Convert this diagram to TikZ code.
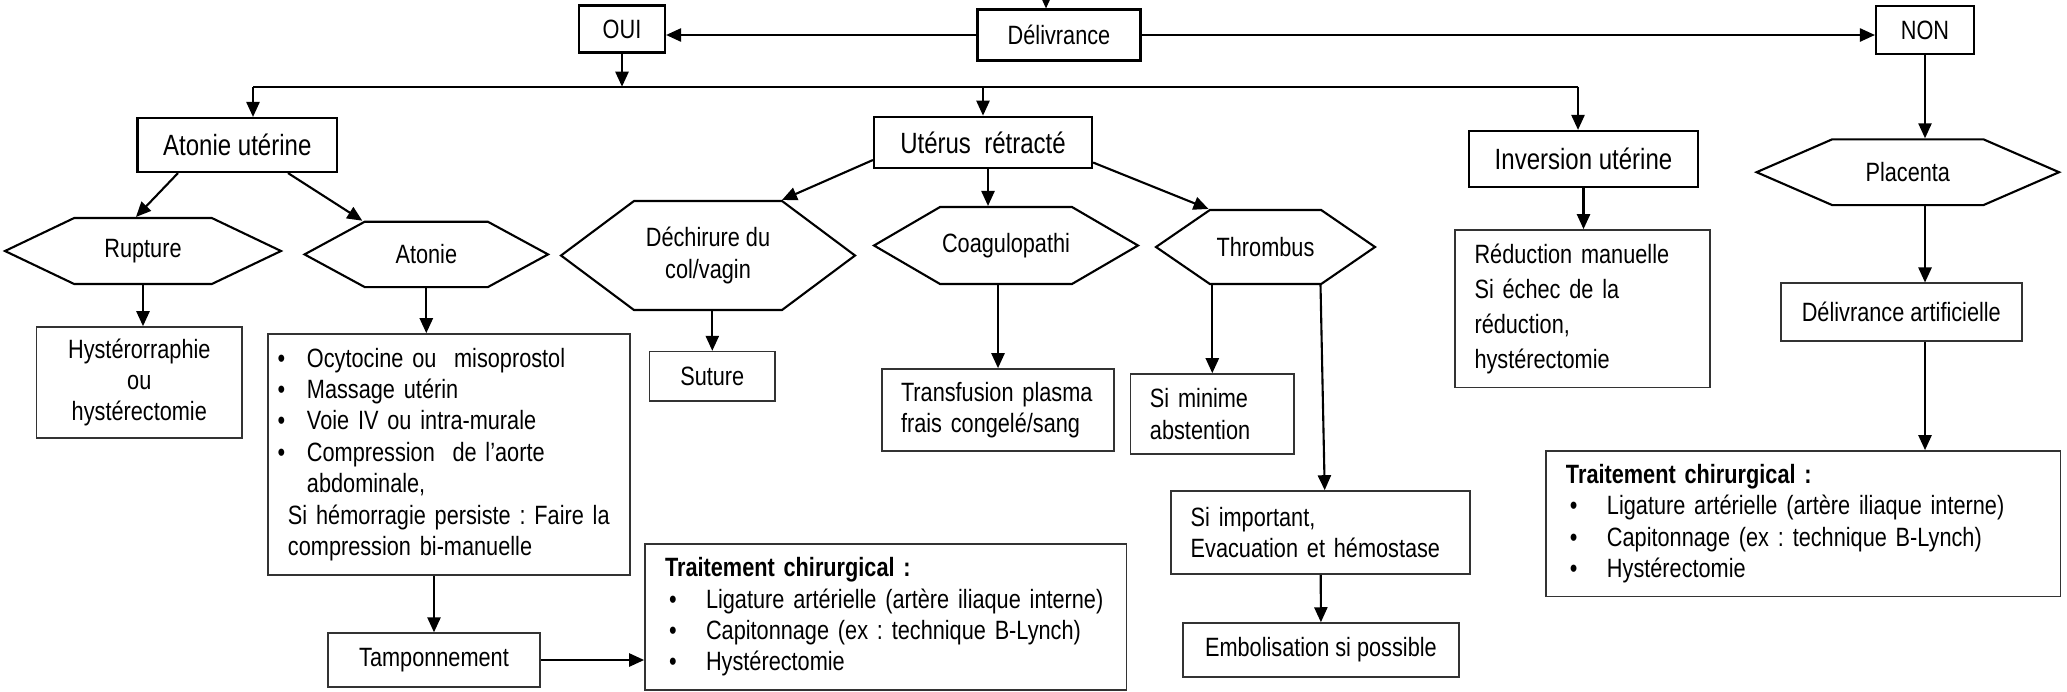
\documentclass[tikz,border=0pt]{standalone}
\usepackage{fontspec}
\setmainfont[FakeStretch=0.82]{Liberation Sans}
\usepackage{tikz}
\usetikzlibrary{shapes.symbols,arrows.meta,calc}

\newcommand{\pxu}{0.015cm}
\newcommand{\puce}[2]{\makebox[#1][l]{\textbullet}#2}
\frenchspacing

\tikzset{
  arr/.style={-{Triangle[length=6.4pt,width=5.6pt]}, line width=0.9pt},
  wh/.style 2 args={minimum width=#1*\pxu, minimum height=#2*\pxu},
  titlebox/.style={draw, line width=0.9pt, inner sep=0pt, font=\fontsize{12.5}{15}\selectfont},
  smallbox/.style={draw, line width=0.9pt, inner sep=0pt},
  txtbox/.style={draw=black!80, line width=0.7pt, inner ysep=0pt, align=left},
  ctrbox/.style={draw=black!80, line width=0.7pt, inner sep=0pt, align=center},
  hexa/.style={draw, line width=0.9pt, shape=signal, signal to=east and west, inner sep=0pt, align=center},
}

\begin{document}
\begin{tikzpicture}[x=\pxu, y=-\pxu, font=\fontsize{11.3}{13.4}\selectfont]
    \useasboundingbox (0,0) rectangle (2067,691);

    % Delivrance
    \node[smallbox, wh={163}{51}] (deliv) at (1059,35) {Délivrance};
    \node[smallbox, wh={86}{47}] (oui) at (622,29) {OUI};
    \node[smallbox, wh={98}{48}] (non) at (1925,30) {NON};
    \coordinate (top) at (1046,0);
    \draw[arr] (top) -- (top |- deliv.north);
    \draw[arr] (deliv.west) -- (deliv.west -| oui.east);
    \draw[arr] (deliv.east) -- (deliv.east -| non.west);

    % for OUI
    \node[titlebox, wh={199.5}{54}] (atonU) at (237.3,145) {Atonie utérine};
    \node[titlebox, wh={218}{51.6}] (uterR) at (983,142.5) {Utérus~ rétracté};
    \node[titlebox, wh={229}{55.7}] (invU) at (1583.5,158.8) {Inversion utérine};
    \coordinate (busL) at (253,86.7);
    \coordinate (busR) at (1578,86.7);
    \draw[arr] (oui.south) -- (oui.south |- busL);
    \draw[line width=0.9pt] (busL) -- (busR);
    \draw[arr] (busL) -- (busL |- atonU.north);
    \draw[arr] (uterR.north |- busL) -- (uterR.north);
    \draw[arr] (busR) -- (busR |- invU.north);

    % for Atonie uterine
    \node[hexa, wh={276}{66}, signal pointer angle=51] (rupt) at (143,251) {Rupture};
    \node[hexa, wh={243.5}{65.3}, signal pointer angle=57] (aton) at (426.3,254.4) {Atonie};
    \draw[arr] ($(atonU.south)+(-59.3,0)$) -- ($(rupt.north)+(-7,0)$);
    \draw[arr] ($(atonU.south)+(50.7,0)$) -- ($(aton.north)+(-64,0)$);

    \node[ctrbox, wh={205.4}{111}] (hyst) at (139.3,382.5) {Hystérorraphie\\ou\\hystérectomie};
    \draw[arr] (rupt.south) -- (rupt.south |- hyst.north);

    \node[txtbox, wh={362}{241}, inner xsep=9.7*\pxu, text width=5.14cm] (atonL) at (449,454.5) {%
      \puce{0.44cm}{Ocytocine ou~ misoprostol}\\
      \puce{0.44cm}{Massage utérin}\\
      \puce{0.44cm}{Voie IV ou intra-murale}\\
      \puce{0.44cm}{Compression~ de l’aorte}\\
      \hspace*{0.44cm}abdominale,\\
      \hspace*{0.155cm}Si hémorragie persiste : Faire la\\
      \hspace*{0.155cm}compression bi-manuelle};
    \draw[arr] (aton.south) -- (aton.south |- atonL.north);

    \node[ctrbox, wh={212}{53.7}] (tamp) at (434,660) {Tamponnement};
    \draw[arr] (tamp.north |- atonL.south) -- (tamp.north);

    \node[txtbox, wh={481.5}{146}, inner xsep=20*\pxu, text width=6.62cm] (trait1) at (885.7,617) {%
      \textbf{Traitement chirurgical :}\\
      \hspace*{0.06cm}\puce{0.555cm}{Ligature artérielle (artère iliaque interne)}\\
      \hspace*{0.06cm}\puce{0.555cm}{Capitonnage (ex : technique B-Lynch)}\\
      \hspace*{0.06cm}\puce{0.555cm}{Hystérectomie}};
    \draw[arr] (tamp.east) -- (tamp.east -| trait1.west);

    % for Uterus retracte
    \node[hexa, wh={294}{109}, signal pointer angle=73.5] (dech) at (708,255.5) {Déchirure du\\col/vagin};
    \node[hexa, wh={264}{77}, signal pointer angle=60.5] (coag) at (1006,245.5) {Coagulopathi};
    \node[hexa, wh={219}{74}, signal pointer angle=69] (thromb) at (1265.5,247) {Thrombus};
    \coordinate (uc) at ($(uterR.south)+(5,0)$);
    \draw[arr] ($(uterR.west)+(0,17.5)$) -- ($(dech.north)+(74,0)$);
    \draw[arr] (uc) -- (uc |- coag.north);
    \draw[arr] ($(uterR.east)+(0,20)$) -- ($(thromb.north)+(-57,0)$);

    \node[ctrbox, wh={125.5}{49.3}] (suture) at (712.3,376.3) {Suture};
    \draw[arr] (suture.north |- dech.south) -- (suture.north);

    \node[txtbox, wh={231.8}{82}, inner xsep=19*\pxu, text width=2.91cm] (transf) at (998,410) {%
      \mbox{Transfusion plasma}\\\mbox{frais congelé/sang}};
    \draw[arr] (transf.north |- coag.south) -- (transf.north);

    % for Thrombus
    \node[txtbox, wh={163.4}{80}, inner xsep=19.4*\pxu, text width=1.87cm] (simin) at (1212.3,414) {%
      Si minime\\abstention};
    \draw[arr] (simin.north |- thromb.south) -- (simin.north);

    \node[txtbox, wh={298.6}{83}, inner xsep=19.4*\pxu, text width=3.9cm] (siimp) at (1320.7,532.5) {%
      Si important,\\Evacuation et hémostase};
    \draw[arr] ($(thromb.south)+(55,0)$) -- ($(siimp.north)+(4,0)$);

    \node[ctrbox, wh={275.7}{53.7}] (embol) at (1320.9,649.9) {Embolisation si possible};
    \draw[arr] (siimp.south) -- (embol.north);

    % for Inversion uterine
    \node[txtbox, wh={255}{157.7}, inner xsep=19.5*\pxu, text width=3.24cm,
          font=\fontsize{11.3}{14.9}\selectfont] (reduc) at (1582.5,308.8) {%
      Réduction manuelle\\Si échec de la\\réduction,\\hystérectomie};
    \draw[arr] (invU.south) -- (invU.south |- reduc.north);

    % for NON
    \node[hexa, wh={302.5}{65.7}, signal pointer angle=47] (plac) at (1907.8,172.2) {Placenta};
    \draw[arr] (non.south) -- (non.south |- plac.north);

    \node[ctrbox, wh={241.3}{57.4}] (delivA) at (1901.3,312) {Délivrance artificielle};
    \draw[arr] (non.south |- plac.south) -- (non.south |- delivA.north);

    \node[txtbox, wh={514.6}{145.7}, inner xsep=20*\pxu, text width=7.12cm] (trait2) at (1803.3,523.8) {%
      \textbf{Traitement chirurgical :}\\
      \hspace*{0.06cm}\puce{0.555cm}{Ligature artérielle (artère iliaque interne)}\\
      \hspace*{0.06cm}\puce{0.555cm}{Capitonnage (ex : technique B-Lynch)}\\
      \hspace*{0.06cm}\puce{0.555cm}{Hystérectomie}};
    \draw[arr] (non.south |- delivA.south) -- (non.south |- trait2.north);
\end{tikzpicture}
\end{document}
